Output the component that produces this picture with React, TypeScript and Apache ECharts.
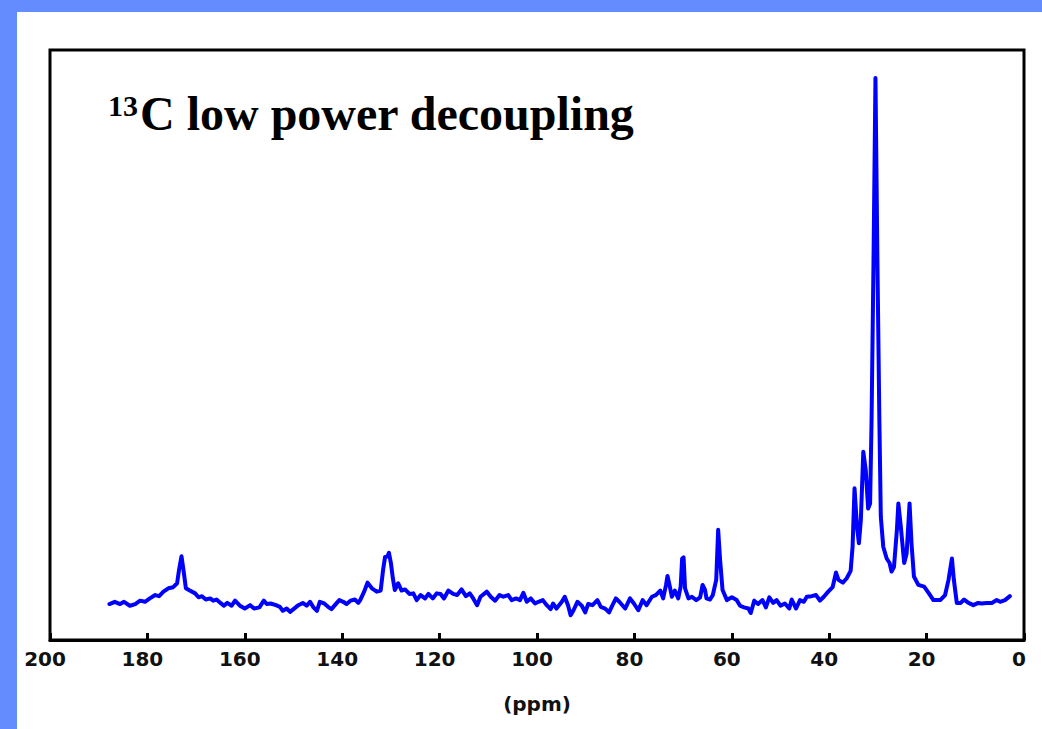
import React, { useEffect, useRef } from "react";
import * as echarts from "echarts";

// Chemical shift (ppm) and relative intensity
const ppm: number[] = [
  187.8, 186.7, 185.6, 184.8, 183.6, 182.5, 181.5, 180.5, 179.5, 178.4,
  177.6, 176.7, 175.7, 174.7, 173.9, 173.5, 173.0, 172.6, 172.1, 171.3,
  170.2, 169.5, 168.8, 168.0, 167.1, 166.5, 165.8, 165.0, 164.3, 163.6,
  162.7, 162.0, 161.0, 160.0, 158.9, 158.1, 157.0, 156.1, 155.5, 154.7,
  153.6, 152.8, 152.2, 151.4, 150.7, 150.0, 149.0, 148.1, 147.3, 146.6,
  145.9, 145.2, 144.6, 143.7, 142.9, 142.2, 141.5, 140.6, 139.8, 139.1,
  138.3, 137.4, 136.7,
  136.3, 135.5, 134.8, 133.9, 132.9, 132.1, 131.6, 131.2, 130.7, 130.4,
  130.0, 129.6, 129.2, 128.5, 127.8, 127.1, 126.2, 125.4, 124.7, 123.9,
  123.0, 122.3, 121.4, 120.6, 119.8, 119.1, 118.2, 117.2, 116.4, 115.5,
  114.6, 113.8, 113.1, 112.3, 111.6, 110.3, 109.5, 108.6, 107.7, 106.9,
  105.9, 105.2, 104.3, 103.5, 102.8, 102.1, 101.3, 100.4, 99.7, 98.8,
  98.0, 97.2, 96.7, 96.0, 94.9, 94.3, 93.6, 93.1, 92.5, 91.7,
  90.8, 90.1, 89.5, 88.6, 87.6, 86.9, 86.0, 85.2, 84.5, 83.8,
  83.1,
  81.9, 80.9, 80.1, 79.2, 78.3, 77.5, 76.4, 75.6, 74.7, 74.1,
  73.5, 73.2, 72.8, 72.3, 71.7, 71.0, 70.5, 70.2, 69.9, 69.6,
  68.9, 68.2, 67.3, 66.5, 66.0, 65.5, 65.2, 64.5, 63.9, 63.2,
  62.8, 62.4, 61.9, 61.0, 60.0, 59.0, 58.3, 57.5, 56.6, 56.1,
  55.4, 54.6, 53.7, 53.0, 52.3, 51.5, 50.8, 50.0, 49.1, 48.2,
  47.7, 46.8, 46.0, 45.2, 44.6, 43.6, 42.7, 41.9, 41.1, 40.2,
  39.3, 38.6, 38.1, 37.2, 36.4,
  35.6, 35.2, 34.8, 34.3, 33.9, 33.5, 33.0, 32.5, 32.0, 31.6,
  31.3, 30.9, 30.5, 30.1, 29.7, 29.4, 28.9, 28.2, 27.6, 27.2,
  26.7, 26.1, 25.8, 25.3, 24.6, 24.1, 23.5, 23.1, 22.6, 21.7,
  20.5, 19.6, 18.6, 17.2, 16.2, 15.5, 14.8, 14.4, 13.8, 13.0,
  12.3, 11.4, 10.4, 9.4, 8.7, 7.7, 6.6, 5.6, 4.9, 3.9,
  2.9,
];

const intensity: number[] = [
  6.4, 6.8, 6.4, 6.8, 6.1, 6.4, 7.0, 6.8, 7.4, 8.0,
  7.8, 8.6, 9.2, 9.4, 10.1, 12.5, 14.9, 12.5, 9.2, 8.8,
  8.3, 7.6, 7.8, 7.2, 7.4, 7.0, 7.2, 6.6, 6.1, 6.6,
  6.1, 7.0, 6.1, 5.6, 6.2, 5.6, 5.8, 7.0, 6.4, 6.5,
  6.2, 5.9, 5.2, 5.6, 5.0, 5.5, 6.2, 6.6, 6.1, 6.8,
  5.8, 5.2, 6.8, 6.5, 5.9, 5.5, 6.2, 7.1, 6.8, 6.4,
  7.0, 7.2, 6.6,
  7.1, 8.6, 10.2, 9.2, 8.6, 8.8, 12.5, 14.8, 14.9, 15.5,
  13.7, 11.0, 8.9, 10.1, 8.8, 9.0, 8.2, 8.3, 7.1, 8.0,
  7.4, 8.2, 7.4, 8.3, 8.2, 7.4, 8.8, 8.2, 8.0, 9.0,
  7.8, 8.3, 7.4, 6.2, 7.7, 8.6, 7.7, 7.0, 8.0, 7.7,
  8.0, 7.1, 7.4, 7.1, 8.4, 6.8, 7.4, 6.5, 6.8, 7.1,
  6.2, 5.5, 6.5, 5.6, 6.8, 7.7, 6.1, 4.4, 5.3, 6.8,
  6.1, 4.9, 6.4, 6.2, 7.1, 5.9, 5.6, 4.9, 6.2, 7.4,
  6.8,
  5.6, 7.4, 6.5, 5.3, 7.1, 6.2, 7.7, 8.0, 8.8, 7.4,
  9.8, 11.4, 9.8, 7.7, 8.8, 7.4, 9.5, 14.5, 14.7, 9.2,
  7.4, 7.7, 7.1, 7.6, 9.8, 8.9, 7.4, 7.2, 8.0, 10.7,
  19.6, 14.2, 8.9, 7.1, 7.6, 7.1, 6.1, 5.8, 5.6, 4.8,
  7.0, 6.4, 7.1, 5.8, 7.6, 6.6, 7.1, 6.1, 6.5, 5.6,
  7.2, 5.6, 7.1, 6.8, 7.7, 7.8, 8.0, 7.0, 7.7, 8.6,
  9.4, 12.0, 10.7, 10.2, 11.0,
  12.3, 16.6, 27.0, 20.2, 17.2, 21.4, 33.5, 30.3, 23.4, 24.3,
  39.2, 67.6, 100.0, 67.6, 39.2, 21.9, 16.6, 14.5, 13.7, 12.2,
  13.0, 19.6, 24.3, 20.2, 13.7, 15.4, 24.3, 17.2, 11.3, 9.8,
  9.5, 8.4, 7.1, 7.1, 8.0, 10.7, 14.5, 10.7, 6.6, 6.6,
  7.2, 6.6, 6.2, 6.6, 6.5, 6.6, 6.6, 7.1, 6.8, 7.1,
  7.8,
];

const xMin = 0;
const xMax = 200;
const xStep = 20;
const axisName = "(ppm)";
const titleSup = "13";
const titleMain = "C low power decoupling";

export default function App() {
  const ref = useRef<HTMLDivElement>(null);

  useEffect(() => {
    if (!ref.current) return;
    const chart = echarts.init(ref.current, undefined, { renderer: "svg" });
    const data = ppm.map((p, i) => [p, intensity[i]]);
    chart.setOption({
      animation: false,
      backgroundColor: "#ffffff",
      grid: {
        left: 33,
        right: 18,
        top: 38,
        bottom: 89,
        show: true,
        borderColor: "#000000",
        borderWidth: 3,
        backgroundColor: "transparent",
      },
      xAxis: {
        type: "value",
        min: xMin,
        max: xMax,
        interval: xStep,
        inverse: true,
        name: axisName,
        nameLocation: "middle",
        nameGap: 54,
        nameTextStyle: {
          fontFamily: "DejaVu Sans",
          fontWeight: "bold",
          fontSize: 20,
          color: "#111",
        },
        axisLine: { show: true, lineStyle: { color: "#000", width: 3 } },
        axisTick: { show: true, inside: true, length: 7, lineStyle: { color: "#000", width: 3 } },
        axisLabel: {
          show: true,
          margin: 9,
          fontFamily: "DejaVu Sans",
          fontWeight: "bold",
          fontSize: 20,
          color: "#111",
          padding: [0, 10, 0, 0],
          showMinLabel: true,
          showMaxLabel: true,
        },
        splitLine: { show: false },
      },
      yAxis: {
        type: "value",
        min: 0,
        max: 105,
        show: false,
      },
      series: [
        {
          type: "line",
          data,
          showSymbol: false,
          symbol: "none",
          lineStyle: { color: "#0000ff", width: 4, join: "round", cap: "round" },
          z: 3,
        },
      ],
      graphic: [
        {
          type: "text",
          x: 91,
          y: 93,
          style: {
            text: titleSup,
            font: "bold 30px 'Liberation Serif', 'Times New Roman', serif",
            fill: "#000",
            verticalAlign: "middle",
            align: "left",
          },
        },
        {
          type: "text",
          x: 123,
          y: 101,
          style: {
            text: titleMain,
            font: "bold 48px 'Liberation Serif', 'Times New Roman', serif",
            fill: "#000",
            verticalAlign: "middle",
            align: "left",
          },
        },
      ],
    });
    return () => chart.dispose();
  }, []);

  return (
    <div
      style={{
        position: "absolute",
        left: 0,
        top: 0,
        width: 1042,
        height: 729,
        background: "#658cff",
        overflow: "hidden",
      }}
    >
      <div
        ref={ref}
        style={{ position: "absolute", left: 17, top: 12, width: 1025, height: 717 }}
      />
    </div>
  );
}
